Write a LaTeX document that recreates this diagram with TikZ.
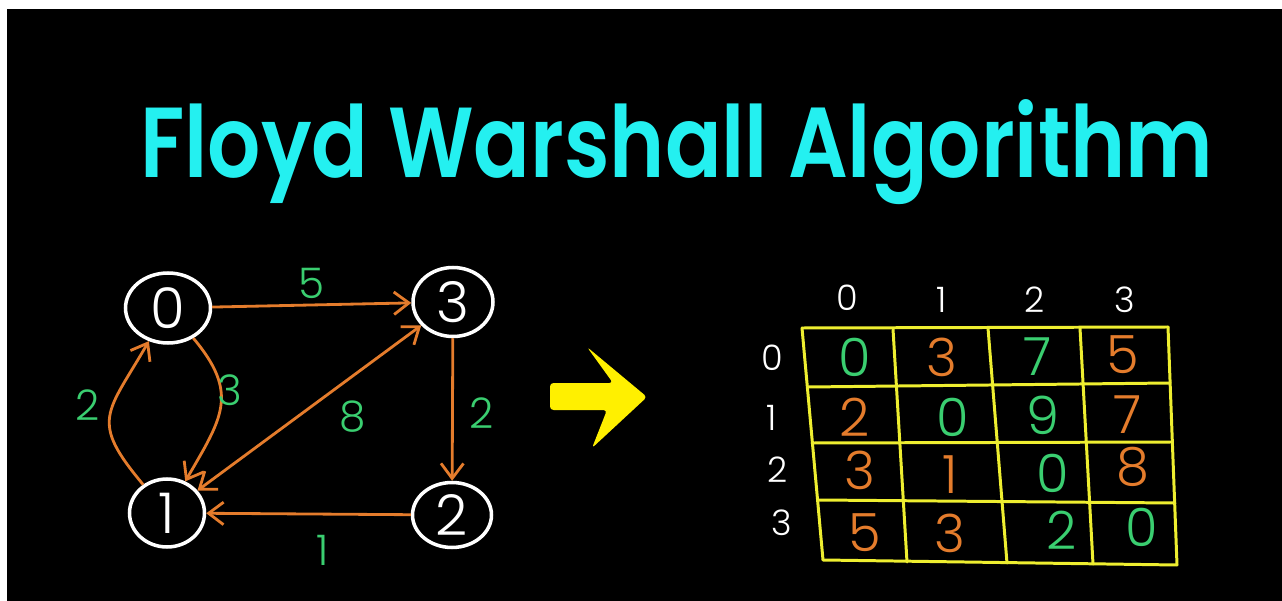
\documentclass[tikz,border=0pt]{standalone}
\usepackage{graphicx}
\usepackage{fontspec}
\setmainfont{Poppins}
\newfontfamily\hand{Poppins Light}
\newfontfamily\titlefont{Poppins SemiBold}
\usetikzlibrary{shapes.geometric,arrows.meta}
\definecolor{titlecyan}{RGB}{36,240,240}
\definecolor{edgeorange}{RGB}{228,124,44}
\definecolor{labgreen}{RGB}{58,206,112}
\definecolor{gridyellow}{RGB}{238,238,48}
\definecolor{arrowyellow}{RGB}{255,240,0}
\tikzset{
  vert/.style={draw=white, line width=2pt, ellipse, inner sep=0pt, text=white,
    font=\hand\fontsize{32}{32}\selectfont},
  edge/.style={draw=edgeorange, line width=1.6pt, -{Straight Barb[length=3mm,width=4.5mm,line width=1.6pt]}},
  bedge/.style={draw=edgeorange, line width=1.6pt, {Straight Barb[length=3mm,width=4.5mm,line width=1.6pt]}-{Straight Barb[length=3mm,width=4.5mm,line width=1.6pt]}},
  elabel/.style={text=labgreen, inner sep=0pt, font=\hand\fontsize{24}{24}\selectfont},
  head/.style={text=white, inner sep=0pt, font=\hand\fontsize{20}{20}\selectfont},
  cellO/.style={text=edgeorange, inner sep=0pt, font=\hand\fontsize{30}{30}\selectfont},
  cellG/.style={text=labgreen, inner sep=0pt, font=\hand\fontsize{30}{30}\selectfont},
  gridline/.style={draw=gridyellow, line width=1.7pt, line cap=round},
}
\begin{document}
\begin{tikzpicture}[x=0.02cm,y=0.02cm]
\useasboundingbox (0,0) rectangle (1282,-601);
\fill[white] (0,0) rectangle (1282,-601);
\fill[black] (7,-9) rectangle (1282,-601);

% title
\node[anchor=base west, inner sep=0pt, text=titlecyan] (title) at (140,-178)
  {\resizebox{21.46cm}{1.56cm}{\titlefont Floyd Warshall Algorithm}};

% graph
\node[vert, minimum width=1.70cm, minimum height=1.40cm] (n0) at (168,-308) {0};
\node[vert, minimum width=1.60cm, minimum height=1.38cm] (n3) at (453,-302) {3};
\node[vert, minimum width=1.50cm, minimum height=1.36cm] (n1) at (167,-513) {1};
\node[vert, minimum width=1.58cm, minimum height=1.30cm] (n2) at (452,-515) {2};

\draw[edge] (n0) -- (n3);
\draw[edge] (n3) -- (n2);
\draw[edge] (n2) -- (n1);
\draw[bedge] (n3) -- (n1);
\draw[edge] (n0) to[out=-50, in=60, looseness=1.3] (n1);
\draw[edge] (n1) to[out=130, in=-120, looseness=1.5] (n0);

\node[elabel] (l5) at (312,-283) {5};
\node[elabel] (l3) at (230,-390) {3};
\node[elabel] (l2a) at (88,-405) {2};
\node[elabel] (l8) at (353,-417) {8};
\node[elabel] (l2b) at (482,-413) {2};
\node[elabel] (l1) at (323,-550) {1};

% big arrow
\fill[arrowyellow, rounded corners=2pt] (550,-383) -- (613,-383) -- (587,-347) -- (647,-397)
  -- (592,-448) -- (607,-410) -- (550,-410) -- cycle;

% matrix grid
\draw[gridline] (802,-328) -- (1168,-327);
\draw[gridline] (808,-387) -- (1170,-383);
\draw[gridline] (812,-443) -- (1172,-442);
\draw[gridline] (818,-500) -- (1175,-503);
\draw[gridline] (823,-560) -- (1177,-565);
\draw[gridline] (802,-328) -- (823,-560);
\draw[gridline] (893,-329) -- (907,-562);
\draw[gridline] (988,-328) -- (1007,-563);
\draw[gridline] (1080,-328) -- (1093,-564);
\draw[gridline] (1168,-327) -- (1177,-565);

% headers
\node[head] (c0) at (847,-298) {0};
\node[head] (c1) at (942,-300) {1};
\node[head] (c2) at (1035,-300) {2};
\node[head] (c3) at (1125,-300) {3};
\node[head] (r0) at (772,-358) {0};
\node[head] (r1) at (772,-418) {1};
\node[head] (r2) at (778,-470) {2};
\node[head] (r3) at (782,-523) {3};

% cells
\node[cellG] (m00) at (855,-357) {0};
\node[cellO] (m01) at (942,-357) {3};
\node[cellG] (m02) at (1038,-357) {7};
\node[cellO] (m03) at (1123,-355) {5};
\node[cellO] (m10) at (855,-417) {2};
\node[cellG] (m11) at (953,-417) {0};
\node[cellG] (m12) at (1043,-415) {9};
\node[cellO] (m13) at (1128,-415) {7};
\node[cellO] (m20) at (860,-470) {3};
\node[cellO] (m21) at (950,-475) {1};
\node[cellG] (m22) at (1053,-473) {0};
\node[cellO] (m23) at (1133,-467) {8};
\node[cellO] (m30) at (865,-533) {5};
\node[cellO] (m31) at (950,-533) {3};
\node[cellG] (m32) at (1062,-530) {2};
\node[cellG] (m33) at (1142,-527) {0};
\end{tikzpicture}
\end{document}
